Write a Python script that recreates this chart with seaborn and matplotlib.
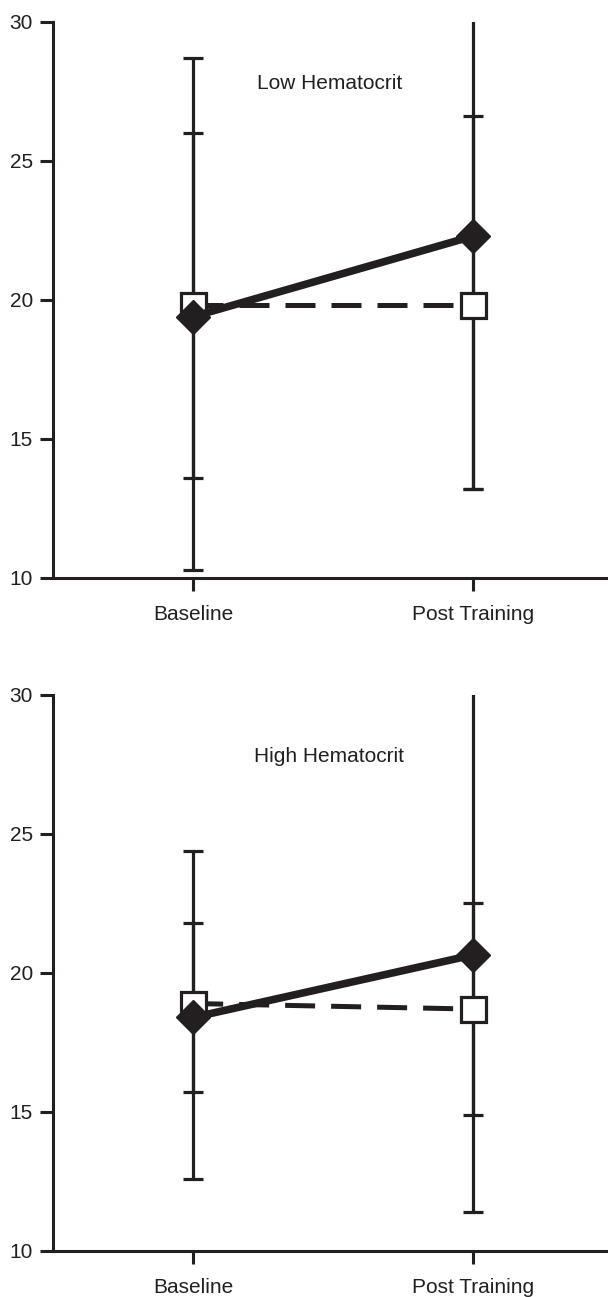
import numpy as np
import pandas as pd
import seaborn as sns
import matplotlib.pyplot as plt

sns.set_style('ticks')
plt.rcParams['font.family'] = ['Liberation Sans', 'DejaVu Sans']

times = ['Baseline', 'Post Training']
panels = ['Low Hematocrit', 'High Hematocrit']
yticks = [10, 15, 20, 25, 30]

# filled diamonds, solid line
low_filled = [19.4, 22.3]
low_filled_lo = [10.3, 13.2]
low_filled_hi = [28.7, 31.5]
# open squares, dashed line
low_open = [19.8, 19.8]
low_open_lo = [13.6, 13.2]
low_open_hi = [26.0, 26.6]

high_filled = [18.4, 20.65]
high_filled_lo = [12.6, 11.4]
high_filled_hi = [24.4, 30.5]
high_open = [18.9, 18.7]
high_open_lo = [15.7, 14.9]
high_open_hi = [21.8, 22.5]

ink = '#231f20'

def panel(ax, title, filled, f_lo, f_hi, opn, o_lo, o_hi):
    x = np.arange(len(times))
    df = pd.DataFrame({'x': x, 'filled': filled, 'open': opn})
    # error bars behind everything
    for y, lo, hi in [(opn, o_lo, o_hi), (filled, f_lo, f_hi)]:
        y = np.array(y)
        ax.errorbar(x, y, yerr=[y - np.array(lo), np.array(hi) - y], fmt='none',
                    ecolor=ink, elinewidth=2.3, capsize=7, capthick=2.3, zorder=1)
    sns.lineplot(data=df, x='x', y='open', ax=ax, color=ink, lw=3.6,
                 dashes=False, zorder=2)
    ax.lines[-1].set_dashes((6, 3.2))
    ax.plot(x, opn, ls='none', marker='s', ms=18, mfc='white', mec=ink, mew=2.3, zorder=3)
    sns.lineplot(data=df, x='x', y='filled', ax=ax, color=ink, lw=5.5, zorder=4)
    ax.plot(x, filled, ls='none', marker='D', ms=17, mfc=ink, mec=ink, zorder=5)

    ax.set_xlim(-0.5, 1.48)
    ax.set_ylim(10, 30)
    ax.set_xticks(x)
    ax.set_xticklabels(times)
    ax.set_yticks(yticks)
    ax.set_xlabel('')
    ax.set_ylabel('')
    ax.text(0.486, 27.8, title, ha='center', va='center', fontsize=15, color=ink)
    sns.despine(ax=ax)
    for s in ['left', 'bottom']:
        ax.spines[s].set_linewidth(2.2)
        ax.spines[s].set_color(ink)
    ax.tick_params(axis='both', length=9.5, width=2.2, color=ink, labelsize=15,
                   labelcolor=ink)
    ax.tick_params(axis='y', pad=5)
    ax.tick_params(axis='x', pad=10)

fig = plt.figure(figsize=(6.08, 12.97), dpi=100)
ax1 = fig.add_axes([0.0872, 0.5544, 0.9128, 0.4287])
ax2 = fig.add_axes([0.0872, 0.0355, 0.9128, 0.4287])
panel(ax1, panels[0], low_filled, low_filled_lo, low_filled_hi, low_open, low_open_lo, low_open_hi)
panel(ax2, panels[1], high_filled, high_filled_lo, high_filled_hi, high_open, high_open_lo, high_open_hi)

fig.savefig('out.png', dpi=100)
